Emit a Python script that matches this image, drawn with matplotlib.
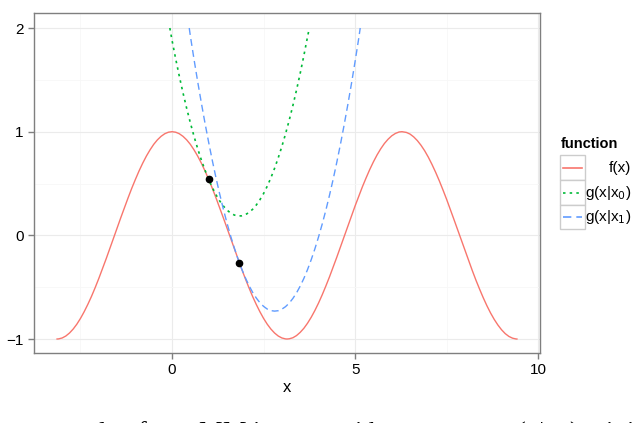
import matplotlib.pyplot as plt
from matplotlib.lines import Line2D
from matplotlib.patches import Rectangle

plt.rcParams['font.family'] = ['Liberation Sans', 'DejaVu Sans']

# f(x)
f_x = [-3.14, -3.1, -3.0, -2.9, -2.8, -2.7, -2.6, -2.5, -2.4, -2.3, -2.2, -2.1,
       -2.0, -1.9, -1.8, -1.7, -1.6, -1.5, -1.4, -1.3, -1.2, -1.1, -1.0, -0.9,
       -0.8, -0.7, -0.6, -0.5, -0.4, -0.3, -0.2, -0.1, 0.0, 0.1, 0.2, 0.3, 0.4,
       0.5, 0.6, 0.7, 0.8, 0.9, 1.0, 1.1, 1.2, 1.3, 1.4, 1.5, 1.6, 1.7, 1.8, 1.9,
       2.0, 2.1, 2.2, 2.3, 2.4, 2.5, 2.6, 2.7, 2.8, 2.9, 3.0, 3.1, 3.14, 3.2, 3.3,
       3.4, 3.5, 3.6, 3.7, 3.8, 3.9, 4.0, 4.1, 4.2, 4.3, 4.4, 4.5, 4.6, 4.7, 4.8,
       4.9, 5.0, 5.1, 5.2, 5.3, 5.4, 5.5, 5.6, 5.7, 5.8, 5.9, 6.0, 6.1, 6.2, 6.28,
       6.4, 6.5, 6.6, 6.7, 6.8, 6.9, 7.0, 7.1, 7.2, 7.3, 7.4, 7.5, 7.6, 7.7, 7.8,
       7.9, 8.0, 8.1, 8.2, 8.3, 8.4, 8.5, 8.6, 8.7, 8.8, 8.9, 9.0, 9.1, 9.2, 9.3,
       9.4, 9.42]
f_y = [-1.0, -0.999, -0.990, -0.971, -0.942, -0.904, -0.857, -0.801, -0.737, -0.666,
       -0.589, -0.505, -0.416, -0.323, -0.227, -0.129, -0.029, 0.071, 0.170, 0.267,
       0.362, 0.454, 0.540, 0.622, 0.697, 0.765, 0.825, 0.878, 0.921, 0.955, 0.980,
       0.995, 1.0, 0.995, 0.980, 0.955, 0.921, 0.878, 0.825, 0.765, 0.697, 0.622,
       0.540, 0.454, 0.362, 0.267, 0.170, 0.071, -0.029, -0.129, -0.227, -0.323,
       -0.416, -0.505, -0.589, -0.666, -0.737, -0.801, -0.857, -0.904, -0.942, -0.971,
       -0.990, -0.999, -1.0, -0.998, -0.988, -0.967, -0.936, -0.897, -0.848, -0.791,
       -0.726, -0.654, -0.575, -0.490, -0.401, -0.307, -0.211, -0.112, -0.012, 0.087,
       0.187, 0.284, 0.378, 0.469, 0.554, 0.635, 0.709, 0.776, 0.835, 0.886, 0.927,
       0.960, 0.983, 0.997, 1.0, 0.993, 0.977, 0.950, 0.914, 0.869, 0.816, 0.754,
       0.684, 0.608, 0.526, 0.438, 0.347, 0.251, 0.153, 0.054, -0.046, -0.146, -0.244,
       -0.339, -0.432, -0.519, -0.602, -0.679, -0.749, -0.811, -0.865, -0.911, -0.948,
       -0.975, -0.992, -1.0, -1.0]

# g(x|x0), green dotted
g0_x = [-0.06, 0.0, 0.1, 0.2, 0.3, 0.4, 0.5, 0.6, 0.7, 0.8, 0.9, 1.0, 1.1, 1.2, 1.3,
        1.4, 1.5, 1.6, 1.7, 1.8, 1.9, 2.0, 2.1, 2.2, 2.3, 2.4, 2.5, 2.6, 2.7, 2.8,
        2.9, 3.0, 3.1, 3.2, 3.3, 3.4, 3.5, 3.6, 3.7, 3.75]
g0_y = [2.0, 1.881, 1.702, 1.533, 1.374, 1.225, 1.086, 0.956, 0.837, 0.728, 0.629,
        0.540, 0.461, 0.392, 0.333, 0.284, 0.244, 0.215, 0.196, 0.187, 0.188, 0.199,
        0.220, 0.251, 0.292, 0.343, 0.403, 0.474, 0.555, 0.646, 0.747, 0.858, 0.979,
        1.110, 1.251, 1.402, 1.562, 1.733, 1.914, 2.0]

# g(x|x1), blue dashed
g1_x = [0.47, 0.5, 0.6, 0.7, 0.8, 0.9, 1.0, 1.1, 1.2, 1.3, 1.4, 1.5, 1.6, 1.7, 1.8,
        1.9, 2.0, 2.1, 2.2, 2.3, 2.4, 2.5, 2.6, 2.7, 2.8, 2.9, 3.0, 3.1, 3.2, 3.3,
        3.4, 3.5, 3.6, 3.7, 3.8, 3.9, 4.0, 4.1, 4.2, 4.3, 4.4, 4.5, 4.6, 4.7, 4.8,
        4.9, 5.0, 5.1, 5.14]
g1_y = [2.0, 1.925, 1.699, 1.484, 1.279, 1.083, 0.898, 0.722, 0.556, 0.401, 0.255,
        0.120, -0.006, -0.121, -0.226, -0.322, -0.407, -0.483, -0.549, -0.604, -0.650,
        -0.685, -0.711, -0.726, -0.731, -0.727, -0.712, -0.688, -0.654, -0.609, -0.555,
        -0.490, -0.416, -0.331, -0.236, -0.132, -0.017, 0.107, 0.241, 0.386, 0.540,
        0.705, 0.879, 1.064, 1.259, 1.463, 1.678, 1.902, 2.0]

# the two iterates
pts_x = [1.0, 1.841]
pts_y = [0.540, -0.267]

labels = ['f(x)', 'g(x|x$_0$)', 'g(x|x$_1$)']
colors = ['#F8766D', '#00BA38', '#619CFF']
styles = ['-', (0, (1.5, 2.5)), (0, (5, 3))]

W, H = 640, 423
fig = plt.figure(figsize=(W / 100, H / 100), dpi=100)
ax = fig.add_axes([34 / W, 1 - 353 / H, (540 - 34) / W, (353 - 13) / H])

ax.plot(f_x, f_y, color=colors[0], ls=styles[0], lw=1.0, zorder=3)
ax.plot(g0_x, g0_y, color=colors[1], ls=styles[1], lw=1.2, zorder=3)
ax.plot(g1_x, g1_y, color=colors[2], ls=styles[2], lw=1.0, zorder=3)
ax.plot(pts_x, pts_y, 'o', color='black', ms=4.5, zorder=4)

ax.set_xlim(-3.77, 10.05)
ax.set_ylim(-1.135, 2.145)
ax.set_xticks([0, 5, 10])
ax.set_yticks([-1, 0, 1, 2])
ax.set_xticklabels(['0', '5', '10'])
ax.set_yticklabels(['\u22121', '0', '1', '2'])
ax.set_xticks([-2.5, 2.5, 7.5], minor=True)
ax.set_yticks([-0.5, 0.5, 1.5], minor=True)
ax.grid(True, which='major', color='#EBEBEB', lw=0.8)
ax.grid(True, which='minor', color='#F7F7F7', lw=0.6)
ax.set_axisbelow(True)
ax.tick_params(which='major', length=4, color='#7F7F7F', labelsize=11, labelcolor='black', width=1)
ax.tick_params(which='minor', length=0)
for s in ax.spines.values():
    s.set_color('#7F7F7F')
    s.set_linewidth(1.0)
ax.set_xlabel('x', fontsize=12, labelpad=2)

# legend drawn by hand, ggplot style
def fx(px):
    return px / W

def fy(py):
    return 1 - py / H

fig.text(fx(561), fy(144), 'function', fontsize=10.5, fontweight='bold', va='center', ha='left')
rows = [(155, 180), (180, 205), (205, 229)]
for (top, bot), lab, c, st in zip(rows, labels, colors, styles):
    fig.add_artist(Rectangle((fx(560), fy(bot)), fx(585) - fx(560), fy(top) - fy(bot),
                             transform=fig.transFigure, facecolor='white',
                             edgecolor='#CCCCCC', lw=1.0))
    yc = fy((top + bot) / 2)
    fig.add_artist(Line2D([fx(563), fx(582)], [yc, yc], transform=fig.transFigure,
                          color=c, ls=st, lw=1.2))
    fig.text(fx(631), yc, lab, fontsize=11, ha='right', va='center')

# caption of the page, only its top edge shows at the bottom of the image
fig.text(fx(-18), fy(439), 'tive example of two MM iterates with surrogates g(x|x$_n$) minimizing',
         family=['Liberation Serif', 'DejaVu Serif'], fontsize=19, ha='left', va='baseline')

fig.savefig('out.png', dpi=100)
